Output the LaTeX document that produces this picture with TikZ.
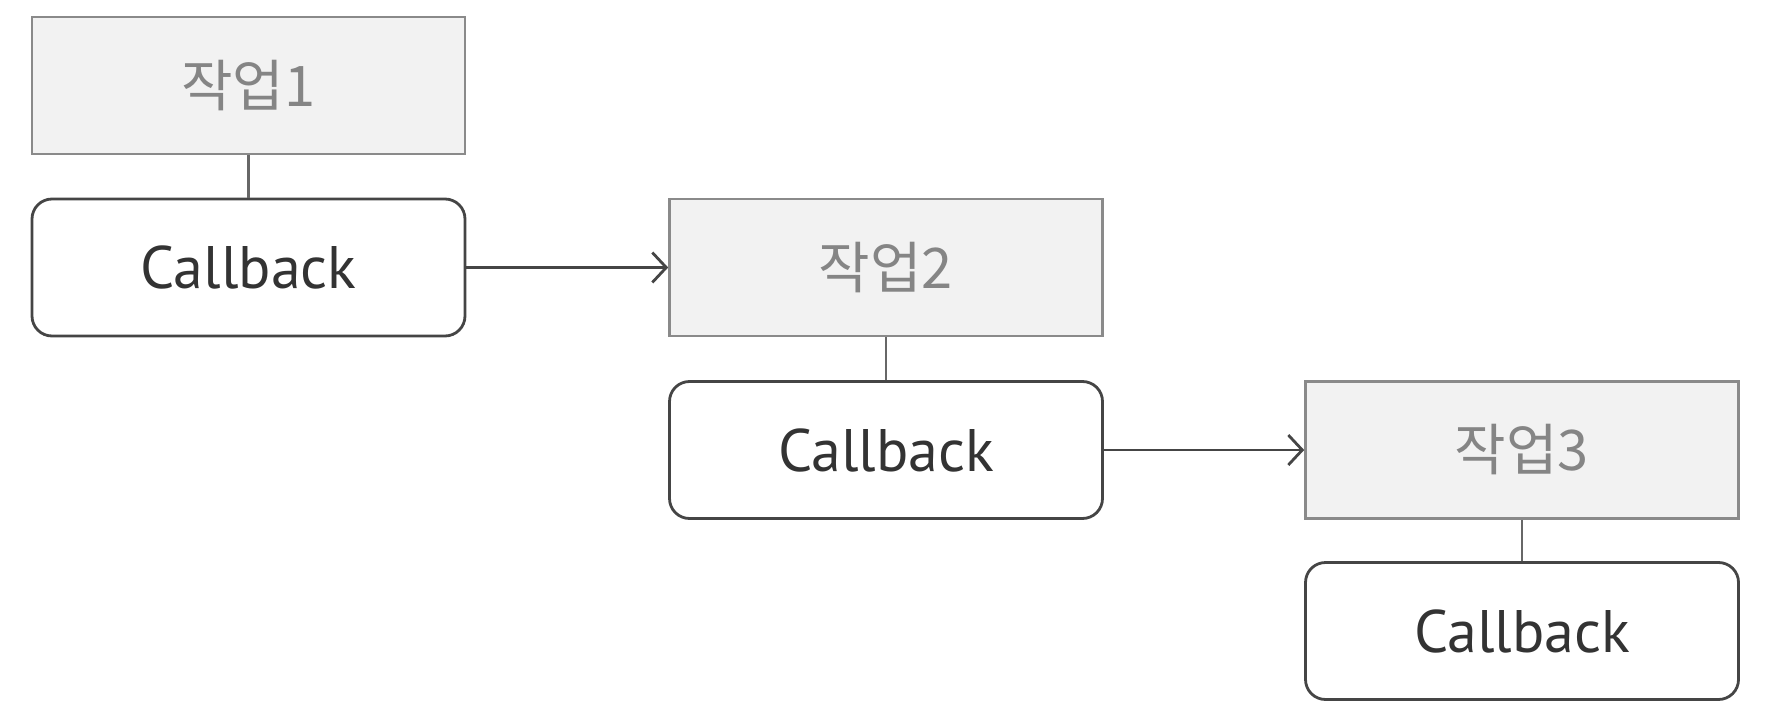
\documentclass[tikz,border=0pt]{standalone}
\usepackage{fontspec}
\setmainfont{PT Sans}
\newfontfamily\kofont{Noto Sans CJK KR}
\usetikzlibrary{arrows.meta}
\definecolor{taskfill}{HTML}{F2F2F2}
\definecolor{taskline}{HTML}{8A8A8A}
\definecolor{tasktext}{HTML}{858585}
\definecolor{cbline}{HTML}{454545}
\definecolor{cbtext}{HTML}{333333}
\tikzset{
  taskbox/.style={draw=taskline, fill=taskfill, line width=2.6pt, minimum width=433pt, minimum height=137pt, inner sep=0pt, text=tasktext, font=\kofont\fontsize{56}{60}\selectfont},
  cbbox/.style={draw=cbline, fill=white, line width=2.8pt, rounded corners=20pt, minimum width=433pt, minimum height=137pt, inner sep=0pt, text=cbtext, font=\fontsize{60}{64}\selectfont},
  link/.style={draw=taskline!75!black, line width=2.6pt},
  flow/.style={draw=cbline, line width=2.8pt, -{Straight Barb[length=14pt,width=30pt]}}
}
\begin{document}
\begin{tikzpicture}[x=1pt,y=-1pt]
\useasboundingbox (0,0) rectangle (1786,712);
\node[taskbox] (t1) at (248.5,85.5) {작업1};
\node[cbbox]   (c1) at (248.5,267.5) {Callback};
\node[taskbox] (t2) at (886,267.5) {작업2};
\node[cbbox]   (c2) at (886,450) {Callback};
\node[taskbox] (t3) at (1522,450) {작업3};
\node[cbbox]   (c3) at (1522,631) {Callback};
\draw[link] (t1) -- (c1);
\draw[link] (t2) -- (c2);
\draw[link] (t3) -- (c3);
\draw[flow] (c1) -- (t2);
\draw[flow] (c2) -- (t3);
\end{tikzpicture}
\end{document}
